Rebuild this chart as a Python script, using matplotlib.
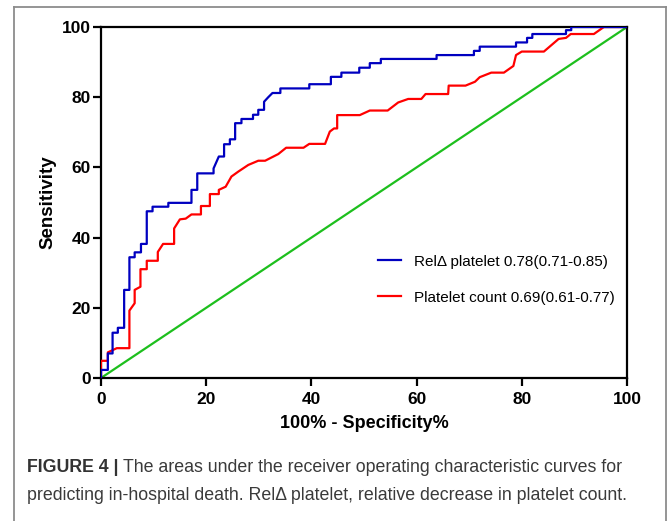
import matplotlib
matplotlib.use("Agg")
import matplotlib.pyplot as plt
from matplotlib.lines import Line2D

# ROC curve vertices (x = 100% - specificity, y = sensitivity)
rel_x = [0, 0, 1.3, 1.3, 2.2, 2.2, 3.2, 3.2, 4.4, 4.4, 5.4, 5.4, 6.4, 6.4, 7.6, 7.6,
         8.7, 8.7, 9.8, 9.8, 12.8, 12.8, 17.2, 17.2, 18.3, 18.3, 21.4, 21.4, 22.4,
         23.4, 23.4, 24.5, 24.5, 25.5, 25.5, 26.7, 26.7, 28.9, 28.9, 29.9, 29.9,
         31.0, 31.0, 31.8, 32.6, 34.1, 34.1, 39.6, 39.6, 43.7, 43.7, 45.7, 45.7,
         49.1, 49.1, 51.1, 51.1, 53.2, 53.2, 63.8, 63.8, 70.9, 70.9, 72.0, 72.0,
         78.9, 78.9, 81.0, 81.0, 82.0, 82.0, 88.4, 88.4, 89.4, 89.4, 100]
rel_y = [0, 2.3, 2.3, 7.0, 7.0, 12.9, 12.9, 14.3, 14.3, 25.1, 25.1, 34.4, 34.4, 35.8,
         35.8, 38.2, 38.2, 47.5, 47.5, 48.8, 48.8, 49.9, 49.9, 53.6, 53.6, 58.3,
         58.3, 59.7, 63.1, 63.1, 66.6, 66.6, 68.0, 68.0, 72.6, 72.6, 73.8, 73.8,
         75.0, 75.0, 76.4, 76.4, 78.7, 80.0, 81.2, 81.2, 82.5, 82.5, 83.7, 83.7,
         85.8, 85.8, 87.0, 87.0, 88.4, 88.4, 89.7, 89.7, 90.9, 90.9, 92.0, 92.0,
         93.2, 93.2, 94.4, 94.4, 95.6, 95.6, 96.9, 96.9, 98.0, 98.0, 99.1, 99.1,
         100, 100]

plt_x = [0, 0, 1.3, 1.3, 3.0, 5.4, 5.4, 6.4, 6.4, 7.5, 7.5, 8.7, 8.7, 10.8, 10.8,
         11.8, 13.9, 13.9, 15.0, 16.1, 17.2, 19.0, 19.0, 20.7, 20.7, 22.4, 22.4,
         23.7, 24.8, 26.1, 28.0, 29.9, 31.2, 33.7, 35.2, 38.5, 39.6, 42.6, 43.5,
         44.3, 44.9, 44.9, 49.2, 51.1, 54.5, 56.5, 58.4, 60.9, 61.7, 66.0, 66.1,
         69.3, 71.1, 72.0, 74.2, 76.6, 78.4, 78.9, 80.0, 84.2, 87.0, 88.4, 89.3,
         93.7, 95.6, 100]
plt_y = [0, 4.9, 4.9, 7.3, 8.5, 8.5, 19.2, 21.3, 25.1, 26.0, 31.0, 31.0, 33.4, 33.4,
         35.9, 38.2, 38.2, 42.6, 45.2, 45.4, 46.6, 46.6, 49.0, 49.0, 52.4, 52.4,
         53.6, 54.5, 57.4, 58.8, 60.7, 61.9, 61.9, 63.8, 65.6, 65.6, 66.7, 66.7,
         70.2, 71.1, 71.1, 74.9, 74.9, 76.2, 76.2, 78.5, 79.5, 79.5, 80.9, 80.9,
         83.3, 83.3, 84.4, 85.7, 87.0, 87.0, 88.9, 92.0, 93.0, 93.0, 96.6, 96.9,
         98.0, 98.0, 100, 100]

ref_x = [0, 100]
ref_y = [0, 100]

ticks = [0, 20, 40, 60, 80, 100]

plt.rcParams["font.family"] = ["Liberation Sans", "DejaVu Sans"]

fig = plt.figure(figsize=(6.69, 5.21), dpi=100)
ax = fig.add_axes([101 / 669, 1 - 378 / 521, 526 / 669, 351 / 521])

ax.plot(ref_x, ref_y, color="#1dbf1d", lw=1.6, zorder=2)
ax.plot(plt_x, plt_y, color="#ff0000", lw=1.6, zorder=3,
        label="Platelet count 0.69(0.61-0.77)")
ax.plot(rel_x, rel_y, color="#0000c0", lw=1.6, zorder=4,
        label="RelΔ platelet 0.78(0.71-0.85)")

ax.set_xlim(0, 100)
ax.set_ylim(0, 100)
ax.set_xticks(ticks)
ax.set_yticks(ticks)
for s in ax.spines.values():
    s.set_linewidth(1.6)
ax.tick_params(direction="out", length=6, width=1.6, labelsize=12.5)
ax.tick_params(axis="x", pad=4)
ax.tick_params(axis="y", pad=1.5)
for lab in ax.get_xticklabels() + ax.get_yticklabels():
    lab.set_fontweight("bold")

ax.set_xlabel("100% - Specificity%", fontsize=13, fontweight="bold", labelpad=6)
ax.set_ylabel("Sensitivity", fontsize=13.5, fontweight="bold", labelpad=4)

handles, labels = ax.get_legend_handles_labels()
ax.legend(handles[::-1], labels[::-1], loc="center left",
          bbox_to_anchor=(0.5, 0.28), frameon=False, fontsize=11,
          handlelength=1.5, labelspacing=1.45, handletextpad=0.9)

# outer frame (open at the bottom)
frame = dict(color="#8c8c8c", lw=1.3, transform=fig.transFigure)
fig.add_artist(Line2D([14 / 669, 14 / 669], [0, 1 - 7 / 521], **frame))
fig.add_artist(Line2D([14 / 669, 666 / 669], [1 - 7 / 521, 1 - 7 / 521], **frame))
fig.add_artist(Line2D([666 / 669, 666 / 669], [0, 1 - 7 / 521], **frame))

cap_font = ["Liberation Sans", "DejaVu Sans"]
t1 = fig.text(27 / 669, 1 - 468 / 521, "FIGURE 4 | ", fontsize=12.8,
              fontweight="bold", color="#333333", va="center", family=cap_font)
fig.canvas.draw()
bb = t1.get_window_extent()
fig.text(bb.x1 / fig.bbox.width, 1 - 468 / 521,
         "The areas under the receiver operating characteristic curves for",
         fontsize=12.8, color="#3a3a3a", va="center", family=cap_font)
fig.text(27 / 669, 1 - 495 / 521,
         "predicting in-hospital death. RelΔ platelet, relative decrease in platelet count.",
         fontsize=12.8, color="#3a3a3a", va="center", family=cap_font)

fig.savefig("out.png", dpi=100)
